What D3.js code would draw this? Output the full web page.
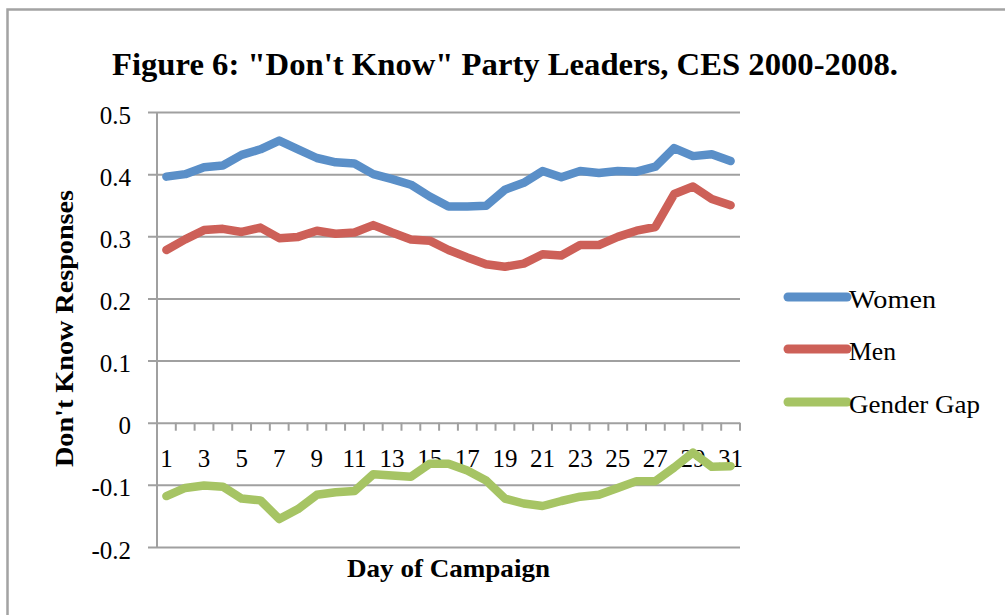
<!DOCTYPE html>
<html>
<head>
<meta charset="utf-8">
<script src="https://cdn.jsdelivr.net/npm/d3@7/dist/d3.min.js"></script>
<style>
  html, body { margin: 0; padding: 0; background: #fff; }
  svg { display: block; font-family: "Liberation Serif", "Times New Roman", serif; }
</style>
</head>
<body>
<svg id="chart" width="1005" height="615"></svg>
<script>
// Campaign days (category axis)
const days = [1,2,3,4,5,6,7,8,9,10,11,12,13,14,15,16,17,18,19,20,21,22,23,24,25,26,27,28,29,30,31];
// Labelled days on the x axis
const xTickLabels = [1,3,5,7,9,11,13,15,17,19,21,23,25,27,29,31];
// Y axis ticks and their labels
const yTicks = [0.5, 0.4, 0.3, 0.2, 0.1, 0, -0.1, -0.2];
const yTickLabels = ["0.5", "0.4", "0.3", "0.2", "0.1", "0", "-0.1", "-0.2"];

// Share of "don't know" responses by day of campaign
const women = [0.396, 0.400, 0.411, 0.414, 0.431, 0.440, 0.454, 0.440, 0.426, 0.419, 0.417,
               0.400, 0.392, 0.383, 0.364, 0.348, 0.348, 0.349, 0.375, 0.386, 0.405, 0.395,
               0.405, 0.402, 0.405, 0.404, 0.412, 0.442, 0.429, 0.432, 0.421];
const men   = [0.278, 0.295, 0.310, 0.312, 0.307, 0.314, 0.297, 0.299, 0.309, 0.304, 0.306,
               0.318, 0.306, 0.295, 0.293, 0.278, 0.266, 0.255, 0.251, 0.256, 0.271, 0.269,
               0.286, 0.286, 0.299, 0.309, 0.315, 0.368, 0.380, 0.360, 0.350];
const gap   = [-0.118, -0.105, -0.101, -0.103, -0.122, -0.125, -0.155, -0.139, -0.116, -0.112, -0.110,
               -0.083, -0.085, -0.087, -0.066, -0.066, -0.077, -0.093, -0.122, -0.130, -0.134, -0.126,
               -0.119, -0.116, -0.105, -0.094, -0.094, -0.072, -0.048, -0.071, -0.070];

const seriesNames = ["Women", "Men", "Gender Gap"];
const seriesColors = ["#5a8fc8", "#cd6058", "#a6c464"];
const seriesData = [women, men, gap];

const svg = d3.select("#chart");

// Outer frame
svg.append("rect")
  .attr("x", 7.5).attr("y", 9.5)
  .attr("width", 1100).attr("height", 700)
  .attr("fill", "none")
  .attr("stroke", "#a3a3a3")
  .attr("stroke-width", 2.5);

const plot = { left: 157, right: 740, top: 112, bottom: 547 };

const x = d3.scaleBand().domain(days).range([plot.left, plot.right]).padding(0);
const y = d3.scaleLinear().domain([-0.2, 0.5]).range([plot.bottom, plot.top]);
const gridColor = "#a0a0a0";

// Horizontal gridlines + y tick labels
const yAxis = d3.axisLeft(y)
  .tickValues(yTicks)
  .tickFormat((d, i) => yTickLabels[i])
  .tickSize(plot.right - plot.left + 9)
  .tickPadding(17);

const gy = svg.append("g")
  .attr("transform", `translate(${plot.right},0)`)
  .call(yAxis);
gy.select(".domain").remove();
gy.selectAll(".tick line").attr("stroke", gridColor).attr("stroke-width", 2);
gy.selectAll(".tick text")
  .attr("fill", "#000")
  .attr("font-size", 25)
  .attr("font-family", "Liberation Serif, serif")
  .attr("dy", "0.44em");

// Vertical axis line
svg.append("line")
  .attr("x1", plot.left).attr("x2", plot.left)
  .attr("y1", y(0.5)).attr("y2", y(-0.2))
  .attr("stroke", gridColor).attr("stroke-width", 2);

// Category tick marks between days, hanging below the zero line
const boundaries = days.map(d => x(d)).concat([x(days[days.length - 1]) + x.bandwidth()]);
svg.append("g").selectAll("line")
  .data(boundaries)
  .join("line")
  .attr("x1", d => d).attr("x2", d => d)
  .attr("y1", y(0)).attr("y2", y(0) + 8)
  .attr("stroke", gridColor).attr("stroke-width", 2);

// Day labels
const xAxis = d3.axisBottom(x).tickValues(xTickLabels).tickSize(0);
const gx = svg.append("g")
  .attr("transform", `translate(0,${y(0)})`)
  .call(xAxis);
gx.select(".domain").remove();
gx.selectAll(".tick text")
  .attr("fill", "#000")
  .attr("font-size", 25)
  .attr("font-family", "Liberation Serif, serif")
  .attr("dy", null)
  .attr("y", 44);

// Series lines
const line = d3.line()
  .x((d, i) => x(days[i]) + x.bandwidth() / 2)
  .y(d => y(d));

svg.append("g").selectAll("path")
  .data(seriesData)
  .join("path")
  .attr("d", d => line(d))
  .attr("fill", "none")
  .attr("stroke", (d, i) => seriesColors[i])
  .attr("stroke-width", 8.5)
  .attr("stroke-linejoin", "round")
  .attr("stroke-linecap", "round");

// Title
svg.append("text")
  .attr("x", 505).attr("y", 75)
  .attr("text-anchor", "middle")
  .attr("font-size", 32)
  .attr("font-weight", "bold")
  .attr("textLength", 786)
  .attr("lengthAdjust", "spacingAndGlyphs")
  .text("Figure 6: \"Don't Know\" Party Leaders, CES 2000-2008.");

// Axis titles
svg.append("text")
  .attr("x", 448.5).attr("y", 577)
  .attr("text-anchor", "middle")
  .attr("font-size", 25)
  .attr("font-weight", "bold")
  .attr("textLength", 203)
  .attr("lengthAdjust", "spacingAndGlyphs")
  .text("Day of Campaign");

svg.append("text")
  .attr("transform", "translate(73,328.5) rotate(-90)")
  .attr("text-anchor", "middle")
  .attr("font-size", 25)
  .attr("font-weight", "bold")
  .attr("textLength", 277)
  .attr("lengthAdjust", "spacingAndGlyphs")
  .text("Don't Know Responses");

// Legend
const legendY = [297, 349, 402];
const legendW = [87, 47, 131];
const legend = svg.append("g").selectAll("g")
  .data(seriesNames)
  .join("g")
  .attr("transform", (d, i) => `translate(0,${legendY[i]})`);
legend.append("line")
  .attr("x1", 788).attr("x2", 847)
  .attr("y1", 0).attr("y2", 0)
  .attr("stroke", (d, i) => seriesColors[i])
  .attr("stroke-width", 9)
  .attr("stroke-linecap", "round");
legend.append("text")
  .attr("x", 849).attr("y", 10.7)
  .attr("font-size", 25)
  .attr("textLength", (d, i) => legendW[i])
  .attr("lengthAdjust", "spacingAndGlyphs")
  .text(d => d);
</script>
</body>
</html>
